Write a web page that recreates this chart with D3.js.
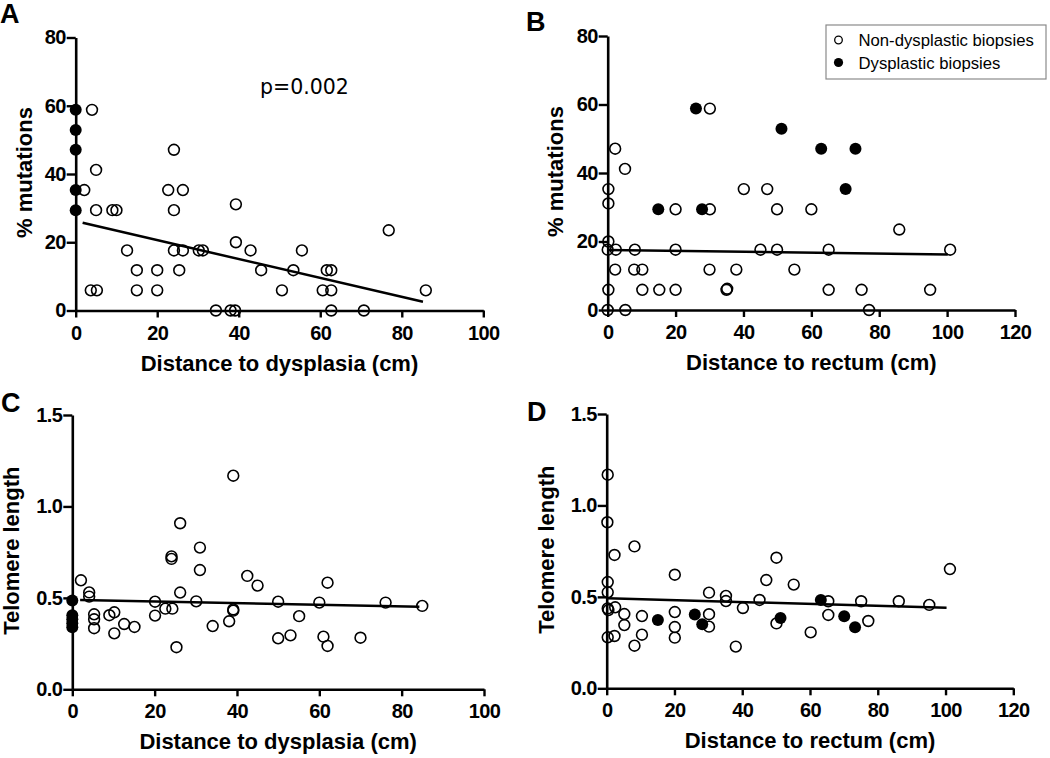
<!DOCTYPE html>
<html>
<head>
<meta charset="utf-8">
<script src="https://cdn.jsdelivr.net/npm/d3@7"></script>
<style>
  html, body { margin: 0; padding: 0; background: #fff; }
  svg { display: block; }
  text { font-family: "Liberation Sans", Arial, sans-serif; }
  text.pval { font-family: "DejaVu Sans", sans-serif; }
</style>
</head>
<body>
<svg id="chart" width="1050" height="758"></svg>
<script>
// ---------------- DATA ----------------
const panelLetters = ["A", "B", "C", "D"];
const xTitles = ["Distance to dysplasia (cm)", "Distance to rectum (cm)", "Distance to dysplasia (cm)", "Distance to rectum (cm)"];
const yTitles = ["% mutations", "% mutations", "Telomere length", "Telomere length"];
const xTicksDysplasia = [0, 20, 40, 60, 80, 100];
const xTicksRectum = [0, 20, 40, 60, 80, 100, 120];
const yTicksMutations = [0, 20, 40, 60, 80];
const yTicksTelomere = [0, 0.5, 1.0, 1.5];
const legendLabels = ["Non-dysplastic biopsies", "Dysplastic biopsies"];
const pValueLabel = "p=0.002";

// Panel A: % mutations vs distance to dysplasia
const aOpen = [[2.1,35.3],[4,58.8],[5,41.2],[5,29.4],[3.7,5.9],[5.2,5.9],[9,29.4],[10,29.4],[12.6,17.6],[15,11.8],[15,5.9],[20,11.8],[20,5.9],[22.7,35.3],[24.1,47.1],[24.1,29.4],[24.1,17.6],[26.3,35.3],[26.3,17.6],[25.4,11.8],[30.2,17.6],[31.2,17.6],[34.4,0],[38,0],[39.1,0],[39.3,31.1],[39.3,20],[42.9,17.6],[45.5,11.8],[50.6,5.9],[53.4,11.8],[55.5,17.6],[60.6,5.9],[61.6,11.8],[62.7,11.8],[62.7,5.9],[62.7,0],[70.7,0],[76.8,23.5],[85.9,5.9]];
const aFilled = [[0,58.8],[0,52.9],[0,47.1],[0,35.3],[0,29.4]];
const aFit = [[1.7,25.7],[85.2,2.55]];

// Panel B: % mutations vs distance to rectum
const bOpen = [[30.1,58.8],[2.2,47.1],[5.1,41.2],[0.2,35.3],[0.2,31.1],[0.2,20],[0,17.6],[2.4,17.6],[2.2,11.8],[0.2,5.9],[0,0],[5.2,0],[8,17.6],[7.8,11.8],[10.2,11.8],[10.2,5.9],[15.2,5.9],[20,29.4],[20,17.6],[20,5.9],[30.1,29.4],[30,11.8],[35,5.9],[35.2,6.2],[37.9,11.8],[40.1,35.3],[45,17.6],[47,35.3],[49.9,29.4],[49.9,17.6],[55,11.8],[60,29.4],[65.1,17.6],[65.1,5.9],[74.8,5.9],[77,0],[85.9,23.5],[95,5.9],[100.9,17.6]];
const bFilled = [[26,58.8],[51.2,52.9],[62.9,47.1],[73,47.1],[70.1,35.3],[14.9,29.4],[27.8,29.4]];
const bFit = [[0,17.5],[100.2,16.2]];

// Panel C: telomere length vs distance to dysplasia
const cOpen = [[2.1,0.596],[4.1,0.53],[4.1,0.507],[5.3,0.41],[5.3,0.383],[5.3,0.334],[9,0.405],[10.2,0.421],[10.2,0.306],[12.6,0.357],[15.1,0.341],[20.1,0.479],[20.1,0.403],[22.6,0.441],[24.3,0.441],[24.1,0.727],[24.1,0.713],[26.2,0.908],[26.2,0.529],[25.3,0.23],[30.1,0.481],[31,0.775],[31,0.652],[34.1,0.346],[38.1,0.372],[39.1,1.168],[39.1,0.437],[39.1,0.43],[42.5,0.62],[45,0.567],[50,0.479],[50,0.279],[53,0.295],[55.1,0.4],[60,0.474],[61,0.288],[62,0.583],[62,0.237],[70,0.282],[76.1,0.474],[85,0.456]];
const cFilled = [[0,0.485],[0,0.405],[0,0.383],[0,0.361],[0,0.339]];
const cFit = [[1.9,0.488],[84.3,0.452]];

// Panel D: telomere length vs distance to rectum
const dOpen = [[0.3,1.168],[0.2,0.908],[0.3,0.581],[0.3,0.525],[0.3,0.437],[0.5,0.428],[0.3,0.279],[2.3,0.729],[2.5,0.443],[2.3,0.286],[5.2,0.406],[5.2,0.346],[8.2,0.776],[8.2,0.233],[10.4,0.395],[10.4,0.293],[20.1,0.621],[20.1,0.417],[20.1,0.335],[20.1,0.277],[30.2,0.523],[30.2,0.405],[30.2,0.337],[35.2,0.505],[35.2,0.477],[38.1,0.228],[40.2,0.439],[45.1,0.483],[47.1,0.592],[50.1,0.714],[50.1,0.355],[55.2,0.567],[60.2,0.306],[65.4,0.476],[65.4,0.401],[75.1,0.476],[77.2,0.368],[86.2,0.476],[95.2,0.456],[101.3,0.652]];
const dFilled = [[15.1,0.374],[26,0.403],[28.2,0.35],[51.3,0.385],[63.2,0.483],[70.1,0.394],[73.3,0.334]];
const dFit = [[0.2,0.492],[100.3,0.441]];

// ---------------- LAYOUT ----------------
const svg = d3.select("#chart");

const panels = [
  { letter: panelLetters[0], letterPos: [0, 23], xr: [75.7, 483.3], yr: [310.5, 37.5], xMax: 100, yMax: 80,
    xTicks: xTicksDysplasia, yTicks: yTicksMutations, yFmt: d3.format("d"),
    xTitle: xTitles[0], yTitle: yTitles[0], yTitleX: 31.5,
    open: aOpen, filled: aFilled, fit: aFit },
  { letter: panelLetters[1], letterPos: [526, 31], xr: [607.7, 1015], yr: [310, 36], xMax: 120, yMax: 80,
    xTicks: xTicksRectum, yTicks: yTicksMutations, yFmt: d3.format("d"),
    xTitle: xTitles[1], yTitle: yTitles[1], yTitleX: 563,
    open: bOpen, filled: bFilled, fit: bFit },
  { letter: panelLetters[2], letterPos: [1, 412], xr: [72.3, 484], yr: [689.3, 415], xMax: 100, yMax: 1.5,
    xTicks: xTicksDysplasia, yTicks: yTicksTelomere, yFmt: d3.format(".1f"),
    xTitle: xTitles[2], yTitle: yTitles[2], yTitleX: 19,
    open: cOpen, filled: cFilled, fit: cFit },
  { letter: panelLetters[3], letterPos: [527, 421], xr: [606.7, 1013.3], yr: [688.3, 414], xMax: 120, yMax: 1.5,
    xTicks: xTicksRectum, yTicks: yTicksTelomere, yFmt: d3.format(".1f"),
    xTitle: xTitles[3], yTitle: yTitles[3], yTitleX: 554,
    open: dOpen, filled: dFilled, fit: dFit }
];

const R = 5.4;

panels.forEach((p, i) => {
  const x = d3.scaleLinear().domain([0, p.xMax]).range(p.xr);
  const y = d3.scaleLinear().domain([0, p.yMax]).range(p.yr);
  const g = svg.append("g");

  // panel letter
  g.append("text")
    .attr("x", p.letterPos[0]).attr("y", p.letterPos[1])
    .attr("font-size", 27).attr("font-weight", "bold")
    .text(p.letter);

  // axes
  const xAxis = d3.axisBottom(x).tickValues(p.xTicks).tickSizeInner(7).tickSizeOuter(0).tickPadding(8).tickFormat(d3.format("d"));
  const yAxis = d3.axisLeft(y).tickValues(p.yTicks).tickSizeInner(9).tickSizeOuter(0).tickPadding(1).tickFormat(p.yFmt);

  const gx = g.append("g").attr("transform", `translate(0,${p.yr[0]})`).call(xAxis);
  const gy = g.append("g").attr("transform", `translate(${p.xr[0]},0)`).call(yAxis);
  [gx, gy].forEach(ax => {
    ax.select(".domain").attr("stroke", "#000").attr("stroke-width", 2.6);
    ax.selectAll(".tick line").attr("stroke", "#000").attr("stroke-width", 2.4);
    ax.selectAll(".tick text")
      .attr("fill", "#000")
      .attr("font-size", 20).attr("font-weight", "bold")
      .attr("letter-spacing", "-0.6px");
  });

  // axis titles
  g.append("text")
    .attr("x", (p.xr[0] + p.xr[1]) / 2).attr("y", p.yr[0] + 60)
    .attr("text-anchor", "middle")
    .attr("font-size", 22).attr("font-weight", "bold")
    .text(p.xTitle);
  const yc = (p.yr[0] + p.yr[1]) / 2 - 1.5;
  g.append("text")
    .attr("transform", `translate(${p.yTitleX},${yc}) rotate(-90)`)
    .attr("text-anchor", "middle")
    .attr("font-size", 22).attr("font-weight", "bold")
    .text(p.yTitle);

  // filled points
  g.append("g").selectAll("circle").data(p.filled).join("circle")
    .attr("cx", d => x(d[0])).attr("cy", d => y(d[1]))
    .attr("r", R + 0.6).attr("fill", "#000");

  // regression line
  g.append("path")
    .datum(p.fit)
    .attr("d", d3.line().x(d => x(d[0])).y(d => y(d[1])))
    .attr("fill", "none").attr("stroke", "#000").attr("stroke-width", 2.5);

  // open points
  g.append("g").selectAll("circle").data(p.open).join("circle")
    .attr("cx", d => x(d[0])).attr("cy", d => y(d[1]))
    .attr("r", R).attr("fill", "none").attr("stroke", "#000").attr("stroke-width", 1.6);

  // p-value in panel A
  if (i === 0) {
    g.append("text")
      .attr("class", "pval")
      .attr("x", 260).attr("y", 94)
      .attr("font-size", 20.5)
      .text(pValueLabel);
  }

  // legend in panel B
  if (i === 1) {
    const lg = g.append("g");
    lg.append("rect")
      .attr("x", 826).attr("y", 25).attr("width", 220).attr("height", 54)
      .attr("fill", "#fff").attr("stroke", "#8a8a8a").attr("stroke-width", 1.2);
    lg.append("circle").attr("cx", 838.5).attr("cy", 40).attr("r", 3.8)
      .attr("fill", "none").attr("stroke", "#000").attr("stroke-width", 1.3);
    lg.append("circle").attr("cx", 838.5).attr("cy", 62.5).attr("r", 4.6)
      .attr("fill", "#000");
    lg.append("text").attr("x", 858.5).attr("y", 46)
      .attr("font-size", 16.7).text(legendLabels[0]);
    lg.append("text").attr("x", 858.5).attr("y", 68.5)
      .attr("font-size", 16.7).text(legendLabels[1]);
  }
});
</script>
</body>
</html>
